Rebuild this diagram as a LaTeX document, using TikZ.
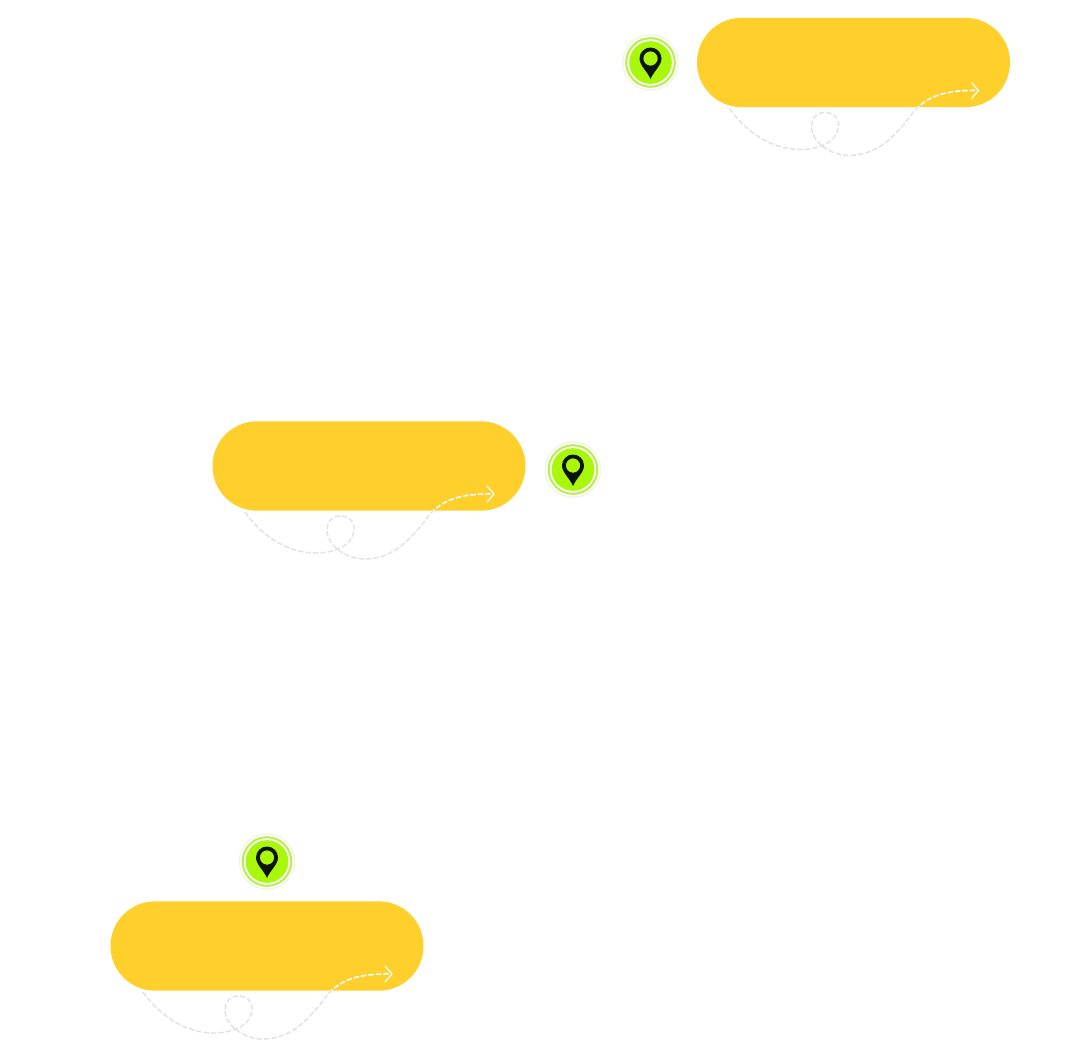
\documentclass[tikz,border=0pt]{standalone}
\usetikzlibrary{arrows.meta}
\definecolor{baryellow}{HTML}{FFD02B}
\definecolor{pingreen}{HTML}{A9F80C}
\definecolor{ringgreen}{HTML}{B6F04A}
\definecolor{halo}{HTML}{F0F6E4}
\definecolor{pinblack}{HTML}{0C1404}
\definecolor{trail}{HTML}{E2E2E2}
\tikzset{
  x=0.75pt,y=-0.75pt,
  routebar/.style={draw=none,fill=baryellow,rounded corners=33.4pt,minimum width=234.75pt,minimum height=67pt,inner sep=0pt},
  haloball/.style={circle,draw=halo,line width=1pt,fill=white,minimum size=41.5pt,inner sep=0pt},
  ringball/.style={circle,draw=ringgreen,line width=1.5pt,fill=white,minimum size=36.5pt,inner sep=0pt},
  coreball/.style={circle,fill=pingreen,minimum size=32pt,inner sep=0pt},
  trailline/.style={line width=1.1pt,dash pattern=on 4pt off 1.6pt},
}
\newcommand{\trailpath}[1]{(#1s) .. controls (-110,66) and (-85,87) .. (-53,87)
  .. controls (-35,87) and (-15,80) .. (-15,62)
  .. controls (-15,54) and (-21,50) .. (-29,50)
  .. controls (-38,50) and (-42,57) .. (-42,64)
  .. controls (-42,80) and (-22,93) .. (-5,93)
  .. controls (25,93) and (42,72) .. (55,56)
  .. controls (68,37) and (85,27) .. (125,28)}
\newcommand{\routeunit}[5]{%
  \node[routebar] (#1bar) at (#2,#3) {};
  \begin{scope}[shift={(#2,#3)}]
    \coordinate (#1s) at (-124,46);
    \draw[trailline,trail] \trailpath{#1};
    \begin{scope}
      \clip (-156.5,-44.5) [rounded corners=33.4pt] rectangle (156.5,44.5);
      \coordinate (#1e) at (125,28);
      \draw[trailline,white] \trailpath{#1};
      \draw[white,line width=0.9pt,line cap=round,line join=round] (118,20) -- (#1e) -- (118,36);
    \end{scope}
  \end{scope}
  \node[haloball] (#1halo) at (#4,#5) {};
  \node[ringball] (#1ring) at (#4,#5) {};
  \node[coreball] (#1core) at (#4,#5) {};
  \begin{scope}[shift={(#4,#5)}]
    \fill[pinblack,even odd rule] (0,16.5)
      .. controls (-3,9) and (-11,3) .. (-11,-4)
      .. controls (-11,-10) and (-6,-15) .. (0,-15)
      .. controls (6,-15) and (11,-10) .. (11,-4)
      .. controls (11,3) and (3,9) .. (0,16.5) -- cycle
      (7.2,-4) arc[start angle=0,end angle=360,radius=7.2];
  \end{scope}
}
\begin{document}
\begin{tikzpicture}
\useasboundingbox (0,0) rectangle (1080,1061);
\routeunit{a}{853.5}{62.5}{650.5}{62.5}
\routeunit{b}{369}{466}{573}{469.5}
\routeunit{c}{267}{946}{267}{861.5}
\end{tikzpicture}
\end{document}
